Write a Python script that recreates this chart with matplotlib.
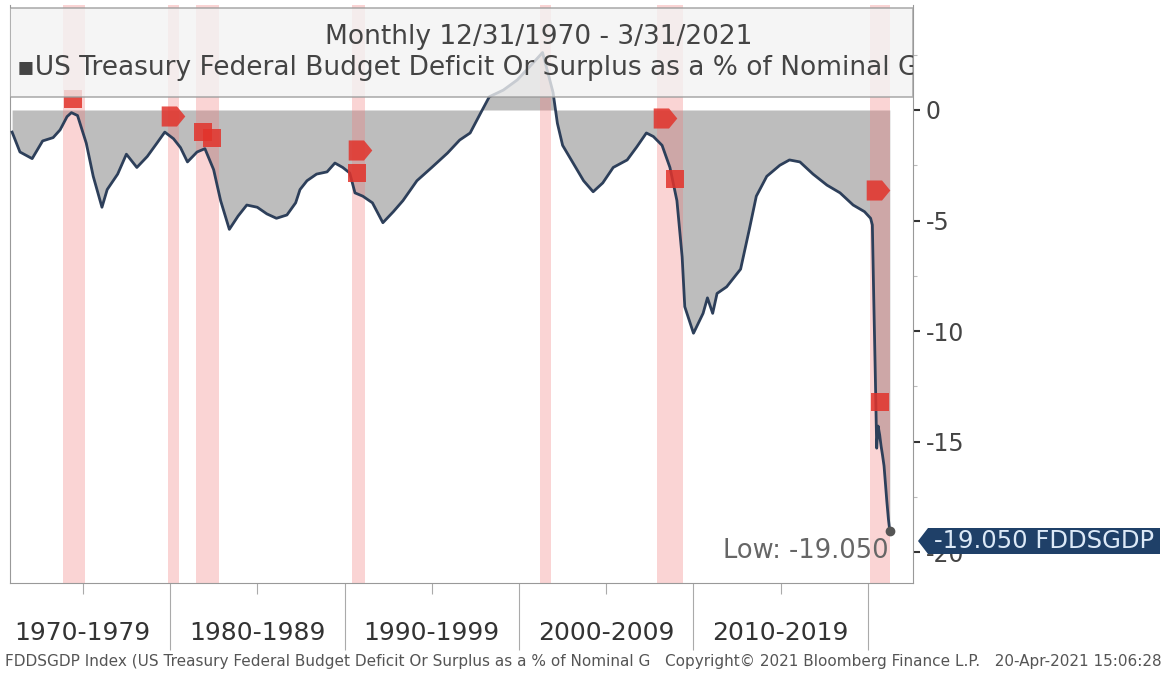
import matplotlib
matplotlib.use("Agg")
import matplotlib.pyplot as plt
from matplotlib.patches import Rectangle, Polygon
from matplotlib.path import Path
import numpy as np

# data (year fraction, % of GDP)
years = [1970.95, 1971.4, 1972.1, 1972.7, 1973.3, 1973.7, 1974.1, 1974.35, 1974.7, 1975.2,
         1975.6, 1976.1, 1976.4, 1977.0, 1977.5, 1978.1, 1978.7, 1979.25, 1979.7, 1980.2,
         1980.6, 1981.0, 1981.55, 1982.0, 1982.5, 1982.9, 1983.4, 1983.9, 1984.4, 1985.0,
         1985.55, 1986.1, 1986.7, 1987.2, 1987.45, 1987.85, 1988.4, 1989.0, 1989.45, 1989.9,
         1990.3, 1990.6, 1991.05, 1991.6, 1992.2, 1992.8, 1993.35, 1994.15, 1995.0, 1995.9,
         1996.6, 1997.2, 1997.8, 1998.3, 1999.1, 1999.9, 2000.6, 2001.35, 2001.95, 2002.2,
         2002.5, 2003.1, 2003.7, 2004.25, 2004.8, 2005.4, 2006.2, 2006.75, 2007.3, 2007.7,
         2008.2, 2008.65, 2009.05, 2009.35, 2009.5, 2010.0, 2010.55, 2010.8, 2011.1, 2011.35,
         2011.9, 2012.7, 2013.2, 2013.6, 2014.2, 2014.95, 2015.5, 2016.1, 2016.85, 2017.65,
         2018.4, 2019.15, 2019.8, 2020.15, 2020.25, 2020.33, 2020.42, 2020.5, 2020.58, 2020.67,
         2020.75, 2020.83, 2020.92, 2021.0, 2021.08, 2021.17, 2021.25]
deficit = [-1.0, -1.9, -2.2, -1.4, -1.25, -0.9, -0.3, -0.12, -0.25, -1.5,
           -3.0, -4.4, -3.6, -2.9, -2.0, -2.6, -2.1, -1.5, -1.0, -1.3,
           -1.7, -2.35, -1.9, -1.75, -2.7, -4.1, -5.4, -4.8, -4.3, -4.4,
           -4.7, -4.9, -4.75, -4.2, -3.6, -3.2, -2.9, -2.8, -2.4, -2.6,
           -2.85, -3.75, -3.9, -4.2, -5.1, -4.6, -4.1, -3.2, -2.6, -1.95,
           -1.36, -1.04, -0.14, 0.6, 0.9, 1.36, 1.95, 2.6, 0.8, -0.6,
           -1.6, -2.4, -3.2, -3.7, -3.3, -2.6, -2.26, -1.67, -1.04, -1.2,
           -1.6, -2.6, -4.1, -6.65, -8.9, -10.1, -9.2, -8.5, -9.2, -8.3,
           -8.0, -7.2, -5.4, -3.9, -3.0, -2.5, -2.26, -2.35, -2.9, -3.4,
           -3.75, -4.3, -4.6, -4.9, -5.2, -8.5, -12.0, -15.3, -14.3, -14.7,
           -15.2, -15.6, -16.1, -16.9, -17.7, -18.5, -19.05]

rec_start = [1973.85, 1979.9, 1981.5, 1990.45, 2001.2, 2007.9, 2020.1]
rec_end = [1975.15, 1980.5, 1982.8, 1991.2, 2001.85, 2009.4, 2021.25]

sq_years = [1974.45, 1981.9, 1982.4, 1990.7, 2008.94, 2020.7]
sq_vals = [0.5, -1.0, -1.27, -2.85, -3.1, -13.2]
pt_years = [1980.17, 1990.9, 2008.37, 2020.57]
pt_vals = [-0.27, -1.8, -0.36, -3.6]

decades = [1980, 1990, 2000, 2010, 2020]
half_decades = [1975, 1985, 1995, 2005, 2015]
decade_labels = ['1970-1979', '1980-1989', '1990-1999', '2000-2009', '2010-2019']
yticks = [0, -5, -10, -15, -20]

W, H = 1163, 674
fig = plt.figure(figsize=(W / 100, H / 100), dpi=100)
ax = fig.add_axes([10 / W, 1 - 583 / H, 903 / W, 578 / H])

ax.fill_between(years, deficit, 0, color='#bdbdbd', lw=0, zorder=1)
for s, e in zip(rec_start, rec_end):
    ax.axvspan(s, e, color='#f07a7a', alpha=0.32, lw=0, zorder=2)
ax.plot(years, deficit, color='#2d3f5a', lw=2.0, zorder=3)
ax.plot(years[-1], deficit[-1], 'o', color='#555555', ms=6, zorder=4)

# event markers: squares and right-pointing tags
tag_marker = Path([(-1, -0.85), (0.3, -0.85), (1, 0), (0.3, 0.85), (-1, 0.85), (-1, -0.85)],
                  [Path.MOVETO, Path.LINETO, Path.LINETO, Path.LINETO, Path.LINETO, Path.CLOSEPOLY])
ax.plot(sq_years, sq_vals, 's', color='#e2332b', alpha=0.85, ms=12.5, mew=0, zorder=5)
ax.plot(pt_years, pt_vals, marker=tag_marker, ls='none', color='#e2332b', alpha=0.85,
        ms=17, mew=0, zorder=5)

# legend / header box
ax.add_patch(Rectangle((0, (583 - 97) / 578), 1, 89 / 578, transform=ax.transAxes,
                       facecolor='#f3f3f3', alpha=0.78, edgecolor='#999999', lw=1.2, zorder=6))
fig.text(539 / W, 1 - 37 / H, 'Monthly 12/31/1970 - 3/31/2021', ha='center', va='center',
         fontsize=19, color='#444444', zorder=7)
ax.text(0.008, (583 - 68) / 578, '\u25aaUS Treasury Federal Budget Deficit Or Surplus as a % of Nominal G',
        transform=ax.transAxes, ha='left', va='center', fontsize=19, color='#444444',
        zorder=7, clip_on=True)

# y axis on right
ax.yaxis.tick_right()
ax.set_yticks(yticks)
ax.set_yticklabels([str(v) for v in yticks])
ax.set_yticks(np.arange(-20, 5, 2.5), minor=True)
ax.tick_params(axis='y', which='major', length=5, width=1.5, color='#333333',
               labelsize=17, labelcolor='#444444', pad=4)
ax.tick_params(axis='y', which='minor', length=3, width=0.8, color='#bbbbbb')

# x axis: decade separators and labels
ax.set_xticks(decades)
ax.set_xticklabels([])
ax.set_xticks(half_decades, minor=True)
ax.tick_params(axis='x', which='major', length=48, width=0.8, color='#aaaaaa')
ax.tick_params(axis='x', which='minor', length=8, width=0.8, color='#aaaaaa')

ax.set_xlim(1970.83, 2022.58)
ax.set_ylim(-21.4, 4.75)

for i, lab in enumerate(decade_labels):
    ax.text(half_decades[i], -21.4 - 50 / 22.1, lab, ha='center', va='center',
            fontsize=18, color='#333333', clip_on=False)

for side in ['left', 'right', 'bottom']:
    ax.spines[side].set_color('#999999')
ax.spines['top'].set_visible(False)

ax.text(2021.2, -19.95, 'Low: -19.050', ha='right', va='center', fontsize=18.5,
        color='#666666', zorder=7)

# last value tag
tag = Polygon([[918 / W, 1 - 541 / H], [928 / W, 1 - 528 / H], [1160 / W, 1 - 528 / H],
               [1160 / W, 1 - 554 / H], [928 / W, 1 - 554 / H]], closed=True,
              transform=fig.transFigure, facecolor='#1f4068', edgecolor='none', zorder=8)
fig.patches.append(tag)
fig.text(1044 / W, 1 - 541 / H, '-19.050 FDDSGDP', ha='center', va='center',
         fontsize=17.5, color='#dce9f7', zorder=9)

fig.text(5 / W, 1 - 661 / H,
         'FDDSGDP Index (US Treasury Federal Budget Deficit Or Surplus as a % of Nominal G   '
         'Copyright\u00a9 2021 Bloomberg Finance L.P.   20-Apr-2021 15:06:28',
         ha='left', va='center', fontsize=11, color='#555555')

fig.savefig('out.png', dpi=100)
